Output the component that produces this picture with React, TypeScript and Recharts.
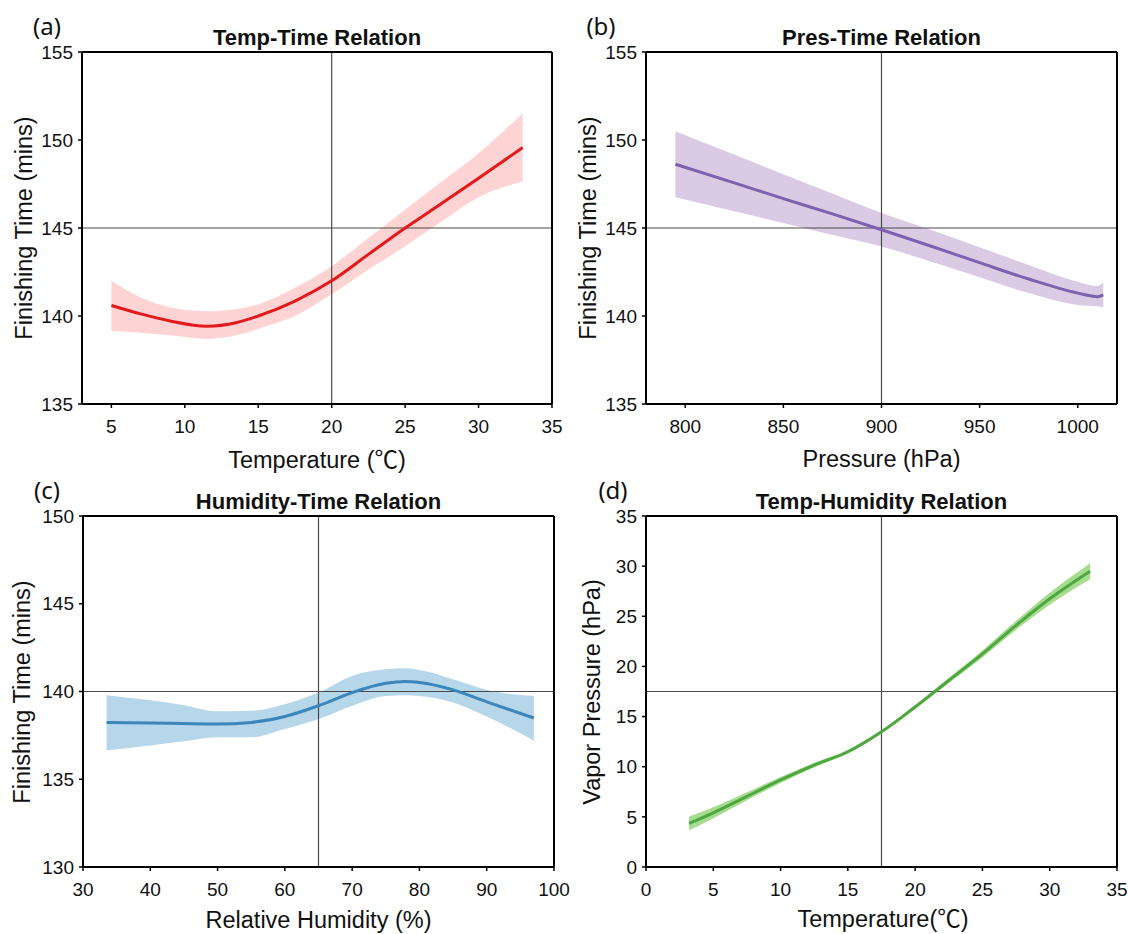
import React from 'react';
import { ComposedChart, Line, Area, XAxis, YAxis, ReferenceLine } from 'recharts';

const FONT = '"Liberation Sans", Arial, Helvetica, sans-serif';
const CJK = '"Noto Sans CJK SC", "Noto Sans CJK JP", sans-serif';

// (a) Temperature vs finishing time
const tempA = [5, 7, 9, 11.5, 13.5, 15, 17.5, 20, 22.5, 25, 27.5, 30, 33];
const timeA = [140.6, 140.12, 139.72, 139.42, 139.62, 140.0, 140.85, 142.0, 143.5, 145.0, 146.4, 147.83, 149.57];
const lowA = [139.15, 139.05, 138.9, 138.7, 138.9, 139.28, 140.0, 141.23, 142.64, 143.96, 145.38, 146.75, 147.64];
const highA = [142.0, 141.05, 140.5, 140.27, 140.4, 140.66, 141.6, 142.83, 144.43, 146.04, 147.64, 149.25, 151.5];

// (b) Pressure vs finishing time
const presB = [795, 825, 850, 875, 900, 925, 950, 975, 1000, 1010, 1013];
const timeB = [148.62, 147.56, 146.67, 145.8, 144.9, 143.98, 143.03, 142.1, 141.3, 141.1, 141.2];
const lowB = [146.75, 145.95, 145.28, 144.6, 143.95, 143.1, 142.2, 141.3, 140.63, 140.55, 140.5];
const highB = [150.5, 149.17, 148.06, 146.96, 145.85, 144.9, 143.9, 142.9, 141.95, 141.7, 141.93];

// (c) Relative humidity vs finishing time
const humC = [33.5, 40, 45, 50, 55, 60, 65, 70, 75, 78, 80, 85, 90, 97];
const timeC = [138.24, 138.2, 138.17, 138.15, 138.24, 138.58, 139.19, 139.94, 140.47, 140.57, 140.51, 140.09, 139.41, 138.49];
const lowC = [136.64, 136.92, 137.16, 137.39, 137.39, 137.86, 138.43, 139.19, 139.75, 139.79, 139.75, 139.38, 138.58, 137.2];
const highC = [139.79, 139.5, 139.22, 138.87, 138.9, 139.28, 139.94, 140.89, 141.27, 141.32, 141.23, 140.7, 140.09, 139.75];

// (d) Temperature vs vapor pressure
const tempD = [3.2, 5, 7.5, 10, 12.5, 15, 17.5, 20, 22.5, 25, 27.5, 30, 33];
const vapD = [4.34, 5.4, 7.05, 8.68, 10.17, 11.49, 13.48, 15.96, 18.6, 21.25, 24.1, 26.75, 29.5];
const lowD = [3.64, 4.85, 6.65, 8.38, 9.95, 11.31, 13.33, 15.76, 18.35, 20.9, 23.65, 26.15, 28.7];
const highD = [5.04, 5.95, 7.45, 8.98, 10.39, 11.67, 13.63, 16.16, 18.85, 21.6, 24.55, 27.35, 30.3];

const ticksA = [5, 10, 15, 20, 25, 30, 35];
const ticksB = [800, 850, 900, 950, 1000];
const ticksC = [30, 40, 50, 60, 70, 80, 90, 100];
const ticksD = [0, 5, 10, 15, 20, 25, 30, 35];
const yTicksAB = [135, 140, 145, 150, 155];
const yTicksC = [130, 135, 140, 145, 150];
const yTicksD = [0, 5, 10, 15, 20, 25, 30, 35];

type PanelProps = {
  left: number; top: number;
  xs: number[]; ys: number[]; lows: number[]; highs: number[];
  xDomain: [number, number]; xTicks: number[];
  yDomain: [number, number]; yTicks: number[];
  xRef: number; yRef: number;
  lineColor: string; bandColor: string;
  margin: { top: number; right: number; bottom: number; left: number };
};

const axisLine = { stroke: '#000', strokeWidth: 2 };
const tickLine = { stroke: '#000', strokeWidth: 1.5 };
const tickStyle = { fontSize: 19, fill: '#111', fontFamily: FONT };

function Panel(p: PanelProps) {
  const data = p.xs.map((x, i) => ({ x, y: p.ys[i], range: [p.lows[i], p.highs[i]] }));
  return (
    <div className="panel" style={{ position: 'absolute', left: p.left, top: p.top }}>
      <ComposedChart width={564} height={467} data={data} margin={p.margin}>
        <XAxis xAxisId="b" dataKey="x" type="number" domain={p.xDomain} ticks={p.xTicks}
          allowDataOverflow interval={0} height={40} tickSize={4} tickMargin={12}
          axisLine={axisLine} tickLine={tickLine} tick={tickStyle} />
        <XAxis xAxisId="t" orientation="top" dataKey="x" type="number" domain={p.xDomain} ticks={p.xTicks}
          allowDataOverflow interval={0} height={5} tickSize={4} tick={false}
          axisLine={axisLine} tickLine={tickLine} />
        <YAxis yAxisId="l" type="number" domain={p.yDomain} ticks={p.yTicks} allowDataOverflow
          interval={0} width={40} tickSize={4} tickMargin={5}
          axisLine={axisLine} tickLine={tickLine} tick={tickStyle} />
        <YAxis yAxisId="r" orientation="right" type="number" domain={p.yDomain} ticks={p.yTicks}
          allowDataOverflow interval={0} width={5} tickSize={4} tick={false}
          axisLine={axisLine} tickLine={tickLine} />
        <Area xAxisId="b" yAxisId="l" dataKey="range" type="monotone" stroke="none"
          fill={p.bandColor} fillOpacity={1} isAnimationActive={false} />
        <ReferenceLine xAxisId="b" yAxisId="l" x={p.xRef} stroke="#4a4a4a" strokeWidth={1.2} />
        <ReferenceLine xAxisId="b" yAxisId="l" y={p.yRef} stroke="#4a4a4a" strokeWidth={1.2} />
        <Line xAxisId="b" yAxisId="l" dataKey="y" type="monotone" stroke={p.lineColor}
          strokeWidth={3} dot={false} activeDot={false} isAnimationActive={false} />
      </ComposedChart>
    </div>
  );
}

type TProps = { x: number; y: number; size: number; bold?: boolean; rotate?: boolean; family?: string; children: React.ReactNode };
const Txt = ({ x, y, size, bold, rotate, family, children }: TProps) => (
  <div style={{
    position: 'absolute', left: x, top: y,
    transform: `translate(-50%,-50%)${rotate ? ' rotate(-90deg)' : ''}`,
    fontSize: size, fontWeight: bold ? 700 : 400, fontFamily: family || FONT,
    whiteSpace: 'nowrap', lineHeight: 1, color: '#111',
  }}>{children}</div>
);

const LETTER_FONT = '"Noto Sans", "Open Sans", sans-serif';
const Deg = () => <span style={{ fontFamily: CJK }}>℃</span>;

export default function App() {
  return (
    <div style={{ position: 'absolute', left: 0, top: 0, width: 1128, height: 934, background: '#fff' }}>
      <style>{'.panel svg { overflow: visible; } .panel .recharts-wrapper { overflow: visible; }'}</style>
      <Panel left={0} top={0} xs={tempA} ys={timeA} lows={lowA} highs={highA}
        xDomain={[3, 35]} xTicks={ticksA} yDomain={[135, 155]} yTicks={yTicksAB}
        xRef={20} yRef={145} lineColor="#e3191c" bandColor="#fdd3d3"
        margin={{ top: 47, right: 7, bottom: 23, left: 42 }} />
      <Panel left={564} top={0} xs={presB} ys={timeB} lows={lowB} highs={highB}
        xDomain={[780, 1020]} xTicks={ticksB} yDomain={[135, 155]} yTicks={yTicksAB}
        xRef={900} yRef={145} lineColor="#7e60ae" bandColor="#dacae3"
        margin={{ top: 47, right: 6, bottom: 23, left: 42 }} />
      <Panel left={0} top={467} xs={humC} ys={timeC} lows={lowC} highs={highC}
        xDomain={[30, 100]} xTicks={ticksC} yDomain={[130, 150]} yTicks={yTicksC}
        xRef={65} yRef={140} lineColor="#3b86bb" bandColor="#b6d6e9"
        margin={{ top: 44, right: 5, bottom: 27, left: 43 }} />
      <Panel left={564} top={467} xs={tempD} ys={vapD} lows={lowD} highs={highD}
        xDomain={[0, 35]} xTicks={ticksD} yDomain={[0, 35]} yTicks={yTicksD}
        xRef={17.5} yRef={17.5} lineColor="#4ea73f" bandColor="#a6dc8e"
        margin={{ top: 44, right: 6, bottom: 27, left: 42 }} />

      <Txt x={47} y={26} size={24} family={LETTER_FONT}>(a)</Txt>
      <Txt x={601} y={26} size={24} family={LETTER_FONT}>(b)</Txt>
      <Txt x={47} y={490} size={24} family={LETTER_FONT}>(c)</Txt>
      <Txt x={613} y={490} size={24} family={LETTER_FONT}>(d)</Txt>

      <Txt x={317} y={37.5} size={22} bold>Temp-Time Relation</Txt>
      <Txt x={881.5} y={37.5} size={22} bold>Pres-Time Relation</Txt>
      <Txt x={318.5} y={501.5} size={22} bold>Humidity-Time Relation</Txt>
      <Txt x={881.5} y={501.5} size={22} bold>Temp-Humidity Relation</Txt>

      <Txt x={317} y={459.5} size={23.5}>Temperature (<Deg />)</Txt>
      <Txt x={881.5} y={459.5} size={23.5}>Pressure (hPa)</Txt>
      <Txt x={318.5} y={920.5} size={23.5}>Relative Humidity (%)</Txt>
      <Txt x={883} y={918.5} size={23.5}>Temperature(<Deg />)</Txt>

      <Txt x={25} y={228} size={23.5} rotate>Finishing Time (mins)</Txt>
      <Txt x={589} y={228} size={23.5} rotate>Finishing Time (mins)</Txt>
      <Txt x={23} y={691.5} size={23.5} rotate>Finishing Time (mins)</Txt>
      <Txt x={593} y={691.5} size={23.5} rotate>Vapor Pressure (hPa)</Txt>
    </div>
  );
}
